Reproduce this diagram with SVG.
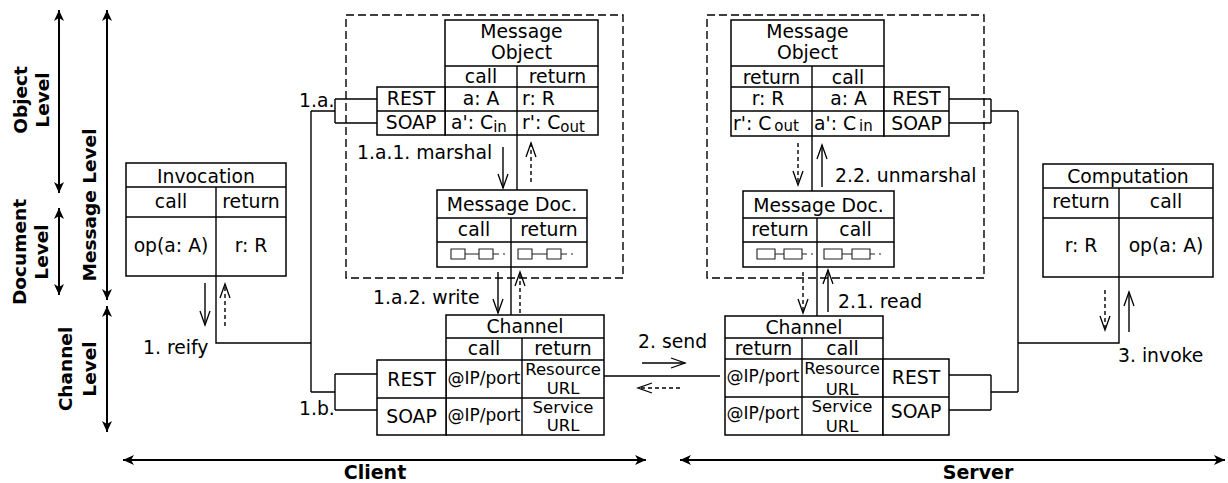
<svg xmlns="http://www.w3.org/2000/svg" width="1228" height="483" viewBox="0 0 1228 483">
<style>
.bx{fill:#fff;stroke:#000;stroke-width:1.5}
.ln{fill:none;stroke:#000;stroke-width:1.4}
.dl{fill:none;stroke:#000;stroke-width:1.4;stroke-dasharray:8,4}
.da{stroke-dasharray:4,3}
.ic{fill:none;stroke:#222;stroke-width:1.1}
.lv{fill:none;stroke:#000;stroke-width:2}
text{font-family:"DejaVu Sans","Liberation Sans",sans-serif;font-size:18.8px;fill:#000}
.c{text-anchor:middle}
.s{font-size:16.5px}
.p{font-size:17px}
.b{font-weight:bold;font-size:18.5px}
.sub{font-size:15px}
</style>
<defs>
<marker id="ah" viewBox="-12 -6 14 12" markerWidth="14" markerHeight="12" refX="0" refY="0" orient="auto-start-reverse" markerUnits="userSpaceOnUse"><path d="M0,0 L-11,-5 L-8,0 L-11,5 Z" fill="#000"/></marker>
<marker id="oa" viewBox="-15 -7 17 14" markerWidth="17" markerHeight="14" refX="0" refY="0" orient="auto" markerUnits="userSpaceOnUse"><path d="M-14,-5 L0,0 L-14,5" fill="none" stroke="#000" stroke-width="1.3"/></marker>
</defs>

<g id="levels">
<line class="lv" x1="59" y1="10" x2="59" y2="193" marker-start="url(#ah)" marker-end="url(#ah)"/>
<line class="lv" x1="59" y1="208" x2="59" y2="295" marker-start="url(#ah)" marker-end="url(#ah)"/>
<line class="lv" x1="107" y1="10" x2="107" y2="300" marker-start="url(#ah)" marker-end="url(#ah)"/>
<line class="lv" x1="107" y1="306" x2="107" y2="432" marker-start="url(#ah)" marker-end="url(#ah)"/>
<text class="b c" transform="translate(27,100) rotate(-90)">Object</text>
<text class="b c" transform="translate(49,100) rotate(-90)">Level</text>
<text class="b c" transform="translate(26,252) rotate(-90)">Document</text>
<text class="b c" transform="translate(48,252) rotate(-90)">Level</text>
<text class="b c" transform="translate(96,205) rotate(-90)">Message Level</text>
<text class="b c" transform="translate(72,369) rotate(-90)">Channel</text>
<text class="b c" transform="translate(96,369) rotate(-90)">Level</text>
</g>

<g id="sides">
<line class="lv" x1="123" y1="460" x2="646" y2="460" marker-start="url(#ah)" marker-end="url(#ah)"/>
<line class="lv" x1="680" y1="460" x2="1225" y2="460" marker-start="url(#ah)" marker-end="url(#ah)"/>
<text class="b c" style="font-size:19px" x="375" y="479">Client</text>
<text class="b c" style="font-size:19px" x="978" y="479">Server</text>
</g>

<g id="client-area">
<rect class="dl" x="346" y="15" width="277" height="263"/>
</g>
<g id="server-area">
<rect class="dl" x="707" y="15" width="277" height="263"/>
</g>

<g id="connectors">
<path class="ln" d="M216,276 V343 H311"/>
<path class="ln" d="M311,111 V392"/>
<path class="ln" d="M311,111 H335 M335,99 V123 M335,99 H377 M335,123 H377"/>
<path class="ln" d="M311,392 H335 M335,374 V410 M335,374 H377 M335,410 H377"/>
<path class="ln" d="M517,135 V190"/>
<path class="ln" d="M511,267 V315"/>
<path class="ln" d="M604,376 H720"/>
<path class="ln" d="M812,136 V191"/>
<path class="ln" d="M817,267 V316"/>
<path class="ln" d="M949,99 H991 M949,123 H991 M991,99 V123 M991,111 H1018 M1018,111 V392"/>
<path class="ln" d="M949,375 H991 M949,410 H991 M991,375 V410 M991,392 H1018"/>
<path class="ln" d="M1119,277 V343 H1018"/>
<line class="ln" x1="205" y1="283" x2="205" y2="325" marker-end="url(#oa)"/>
<line class="ln da" x1="225" y1="326" x2="225" y2="284" marker-end="url(#oa)"/>
<line class="ln" x1="503" y1="147" x2="503" y2="188" marker-end="url(#oa)"/>
<line class="ln da" x1="531" y1="182" x2="531" y2="143" marker-end="url(#oa)"/>
<line class="ln" x1="498" y1="272" x2="498" y2="313" marker-end="url(#oa)"/>
<line class="ln da" x1="520" y1="313" x2="520" y2="272" marker-end="url(#oa)"/>
<line class="ln" x1="642" y1="363" x2="685" y2="363" marker-end="url(#oa)"/>
<line class="ln da" x1="680" y1="388" x2="638" y2="388" marker-end="url(#oa)"/>
<line class="ln da" x1="803" y1="272" x2="803" y2="313" marker-end="url(#oa)"/>
<line class="ln" x1="828" y1="312" x2="828" y2="270" marker-end="url(#oa)"/>
<line class="ln da" x1="798" y1="143" x2="798" y2="185" marker-end="url(#oa)"/>
<line class="ln" x1="822" y1="187" x2="822" y2="145" marker-end="url(#oa)"/>
<line class="ln da" x1="1105" y1="290" x2="1105" y2="330" marker-end="url(#oa)"/>
<line class="ln" x1="1129" y1="332" x2="1129" y2="292" marker-end="url(#oa)"/>
<text x="143" y="354">1. reify</text>
<text x="299" y="107">1.a.</text>
<text x="299" y="415">1.b.</text>
<text x="357" y="159">1.a.1. marshal</text>
<text x="373" y="304">1.a.2. write</text>
<text x="638" y="348">2. send</text>
<text x="838" y="308">2.1. read</text>
<text x="835" y="182">2.2. unmarshal</text>
<text x="1118" y="362">3. invoke</text>
</g>

<g id="invocation">
<rect class="bx" x="126" y="163" width="160" height="113"/>
<path class="ln" d="M126,187 H286 M126,217 H286 M216,187 V276"/>
<text class="c" x="206" y="183">Invocation</text>
<text class="c" x="171" y="208">call</text>
<text class="c" x="251" y="208">return</text>
<text class="c" x="171" y="252">op(a: A)</text>
<text class="c" x="251" y="252">r: R</text>
</g>

<g id="client-message-object">
<rect class="bx" x="445" y="20" width="153" height="115"/>
<rect class="bx" x="377" y="87" width="68" height="48"/>
<path class="ln" d="M445,66 H598 M445,87 H598 M377,111 H598 M517,66 V135"/>
<text class="c" x="521.5" y="38">Message</text>
<text class="c" x="521.5" y="59">Object</text>
<text class="c" x="481" y="83">call</text>
<text class="c" x="557.5" y="83">return</text>
<text class="c" x="481" y="105">a: A</text>
<text x="522" y="105">r: R</text>
<text class="c" x="479" y="129">a': C<tspan class="sub" dy="3">in</tspan></text>
<text x="522" y="129">r': C<tspan class="sub" dy="3">out</tspan></text>
<text class="c" x="411" y="105">REST</text>
<text class="c" x="411" y="129">SOAP</text>
</g>

<g id="client-message-doc">
<rect class="bx" x="437" y="190" width="150" height="77"/>
<path class="ln" d="M437,218 H587 M437,242 H587 M511,218 V267"/>
<text class="c" x="512" y="211">Message Doc.</text>
<text class="c" x="474" y="236">call</text>
<text class="c" x="549" y="236">return</text>
<path class="ic" d="M451,249 h14 v10 h-14 Z M479,249 h14 v10 h-14 Z M465,254 H479 M493,254 H499 M503,254 H505"/>
<path class="ic" d="M518,249 h14 v10 h-14 Z M547,249 h14 v10 h-14 Z M532,254 H547 M561,254 H567 M571,254 H573"/>
</g>

<g id="client-channel">
<rect class="bx" x="446" y="315" width="158" height="120"/>
<rect class="bx" x="377" y="360" width="69" height="75"/>
<path class="ln" d="M446,338 H604 M446,360 H604 M377,398 H604 M522,338 V435"/>
<text class="c" x="525" y="333">Channel</text>
<text class="c" x="484" y="355">call</text>
<text class="c" x="563" y="355">return</text>
<text class="c p" x="484" y="384">@IP/port</text>
<text class="c p" x="484" y="421">@IP/port</text>
<text class="c s" x="563" y="375">Resource</text>
<text class="c s" x="563" y="394">URL</text>
<text class="c s" x="563" y="413">Service</text>
<text class="c s" x="563" y="431">URL</text>
<text class="c" x="411.5" y="386">REST</text>
<text class="c" x="411.5" y="423">SOAP</text>
</g>

<g id="server-message-object">
<rect class="bx" x="731" y="20" width="153" height="116"/>
<rect class="bx" x="884" y="87" width="65" height="49"/>
<path class="ln" d="M731,66 H884 M731,87 H884 M731,111 H949 M812,66 V136"/>
<text class="c" x="807.5" y="38">Message</text>
<text class="c" x="807.5" y="59">Object</text>
<text class="c" x="771.5" y="84">return</text>
<text class="c" x="848" y="84">call</text>
<text class="c" x="768" y="105">r: R</text>
<text class="c" x="848.5" y="105">a: A</text>
<text x="733" y="130">r': C<tspan class="sub" dx="3" dy="1">out</tspan></text>
<text x="814" y="130">a': C<tspan class="sub" dx="3" dy="1">in</tspan></text>
<text class="c" x="916.5" y="105">REST</text>
<text class="c" x="916.5" y="130">SOAP</text>
</g>

<g id="server-message-doc">
<rect class="bx" x="743" y="191" width="151" height="76"/>
<path class="ln" d="M743,218 H894 M743,242 H894 M817,218 V267"/>
<text class="c" x="818.5" y="212">Message Doc.</text>
<text class="c" x="780" y="236">return</text>
<text class="c" x="855.5" y="236">call</text>
<path class="ic" d="M757,249 h18 v10 h-18 Z M784,249 h18 v10 h-18 Z M775,254 H784 M802,254 H807 M811,254 H813"/>
<path class="ic" d="M824,249 h18 v10 h-18 Z M852,249 h18 v10 h-18 Z M842,254 H852 M870,254 H875 M879,254 H881"/>
</g>

<g id="server-channel">
<rect class="bx" x="725" y="316" width="158" height="119"/>
<rect class="bx" x="883" y="359" width="66" height="76"/>
<path class="ln" d="M725,338 H883 M725,359 H883 M725,397 H949 M802,338 V435"/>
<text class="c" x="804" y="334">Channel</text>
<text class="c" x="763.5" y="355">return</text>
<text class="c" x="842.5" y="355">call</text>
<text class="c p" x="763" y="382">@IP/port</text>
<text class="c p" x="763" y="419">@IP/port</text>
<text class="c s" x="842" y="374">Resource</text>
<text class="c s" x="842" y="395">URL</text>
<text class="c s" x="842" y="412">Service</text>
<text class="c s" x="842" y="432">URL</text>
<text class="c" x="916" y="384">REST</text>
<text class="c" x="916" y="418">SOAP</text>
</g>

<g id="computation">
<rect class="bx" x="1043" y="164" width="170" height="113"/>
<path class="ln" d="M1043,188 H1213 M1043,218 H1213 M1119,188 V277"/>
<text class="c" x="1128" y="183">Computation</text>
<text class="c" x="1081" y="208">return</text>
<text class="c" x="1166" y="208">call</text>
<text class="c" x="1081" y="252">r: R</text>
<text class="c" x="1166" y="252">op(a: A)</text>
</g>
</svg>
